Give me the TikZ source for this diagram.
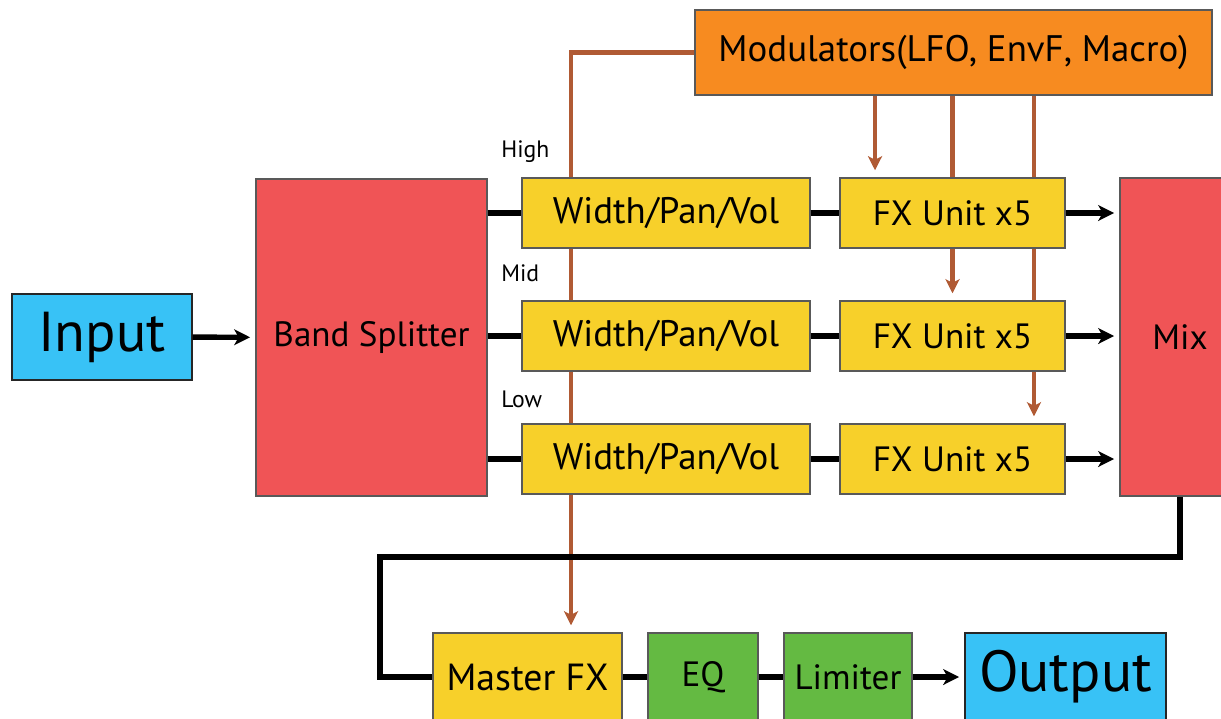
\documentclass[tikz,border=0pt]{standalone}
\usepackage{fontspec}
\setmainfont{PT Sans}
\usetikzlibrary{arrows.meta, positioning, backgrounds, calc}
\definecolor{ioBlue}{RGB}{56,194,246}
\definecolor{bandRed}{RGB}{240,84,86}
\definecolor{fxYellow}{RGB}{247,208,42}
\definecolor{modOrange}{RGB}{247,139,32}
\definecolor{eqGreen}{RGB}{100,186,66}
\definecolor{modBrown}{RGB}{176,90,52}

\begin{document}
\begin{tikzpicture}[
  x=0.02cm, y=-0.02cm,
  box/.style={rectangle, draw=gray!70!black, line width=0.8pt, inner sep=0pt,
              minimum height=1.4cm, font=\fontsize{20}{24}\selectfont},
  io/.style={box, draw=black!85, fill=ioBlue, minimum height=1.72cm,
             font=\fontsize{32}{36}\selectfont},
  splitter/.style={box, fill=bandRed, minimum width=4.62cm, minimum height=6.34cm,
                   font=\fontsize{20}{24}\selectfont},
  wpv/.style={box, fill=fxYellow, minimum width=5.76cm, font=\fontsize{21}{24}\selectfont},
  fxunit/.style={box, fill=fxYellow, minimum width=4.5cm},
  master/.style={box, minimum height=1.76cm},
  bandlabel/.style={anchor=west, inner sep=0pt, font=\fontsize{13.5}{16}\selectfont},
  sig/.style={line width=3.1pt, black},
  sigarrow/.style={sig, -{Stealth[length=9pt, width=9pt, inset=2.5pt]}, shorten >=3pt},
  modline/.style={line width=2.5pt, modBrown},
  modarrow/.style={modline, -{Stealth[length=8pt, width=8pt, inset=2pt]}, shorten >=4pt}
]
  \useasboundingbox (0,0) rectangle (1221,718);

  % Input and band splitter
  \node[io, minimum width=3.6cm] (input) at (102,337) {Input};
  \node[splitter] (split) at (371.5,337.5) {Band Splitter};

  % Band rows
  \node[wpv] (wpvH) at (666,213) {Width/Pan/Vol};
  \node[wpv] (wpvM) at (666,336) {Width/Pan/Vol};
  \node[wpv] (wpvL) at (666,459) {Width/Pan/Vol};
  \node[fxunit] (fxH) at (952.5,213) {FX Unit x5};
  \node[fxunit] (fxM) at (952.5,336) {FX Unit x5};
  \node[fxunit] (fxL) at (952.5,459) {FX Unit x5};

  \node[bandlabel] (lblH) at (501,152) {High};
  \node[bandlabel] (lblM) at (501,273) {Mid};
  \node[bandlabel] (lblL) at (501,399) {Low};

  % Mix and modulators
  \node[box, fill=bandRed, minimum width=2.4cm, minimum height=6.36cm] (mix) at (1180,337) {Mix};
  \node[box, fill=modOrange, minimum width=10.34cm, minimum height=1.7cm,
        font=\fontsize{21}{24}\selectfont] (mod) at (953.5,52.5)
    {Modulators(LFO, EnvF, Macro)};

  % Master chain
  \node[master, fill=fxYellow, minimum width=3.78cm, font=\fontsize{21.5}{24}\selectfont] (mfx) at (527.5,677) {Master FX};
  \node[master, fill=eqGreen, minimum width=2.2cm] (eq) at (703,677) {EQ};
  \node[master, fill=eqGreen, minimum width=2.56cm] (lim) at (848,677) {Limiter};
  \node[io, minimum width=4.02cm, minimum height=1.76cm, font=\fontsize{33}{36}\selectfont] (out) at (1065.5,677) {Output};

  % Signal flow
  \draw[sigarrow] (input) -- (split);
  \foreach \b in {H,M,L} {
    \draw[sig] (split.east |- wpv\b) -- (wpv\b);
    \draw[sig] (wpv\b) -- (fx\b);
    \draw[sigarrow] (fx\b) -- (fx\b -| mix.west);
  }
  \coordinate (bend) at (380,557);
  \draw[sig] (mix.south) |- (bend) |- (mfx);
  \draw[sig] (mfx) -- (eq);
  \draw[sig] (eq) -- (lim);
  \draw[sigarrow] (lim) -- (out);

  % Modulation routing
  \coordinate (hub) at (571,52.5);
  \coordinate (tapA) at ([xshift=-1.55cm]fxH.north);
  \coordinate (tapC) at ([xshift=1.63cm]fxL.north);
  \begin{scope}[on background layer]
    \draw[modarrow] (mod.west) -- (hub) -- (hub |- mfx.north);
    \draw[modarrow] (tapA |- mod.south) -- (tapA);
    \draw[modarrow] (fxM.north |- mod.south) -- (fxM.north);
    \draw[modarrow] (tapC |- mod.south) -- (tapC);
  \end{scope}
\end{tikzpicture}
\end{document}
